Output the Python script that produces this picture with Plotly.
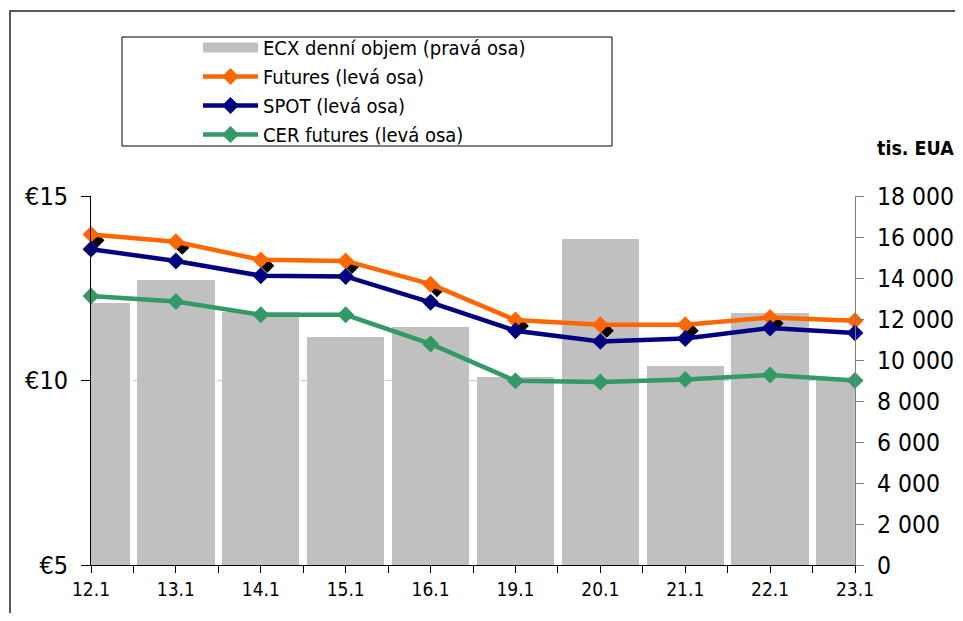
import plotly.graph_objects as go

categories = ["12.1", "13.1", "14.1", "15.1", "16.1", "19.1", "20.1", "21.1", "22.1", "23.1"]
volume = [12760, 13880, 12350, 11100, 11600, 9150, 15920, 9730, 12300, 9100]
futures = [13.96, 13.76, 13.27, 13.24, 12.61, 11.64, 11.51, 11.51, 11.71, 11.62]
spot = [13.56, 13.24, 12.84, 12.82, 12.12, 11.35, 11.06, 11.14, 11.42, 11.29]
cer = [12.29, 12.14, 11.78, 11.78, 10.99, 9.99, 9.96, 10.03, 10.15, 10.00]

names = ["ECX denní objem (pravá osa)", "Futures (levá osa)", "SPOT (levá osa)", "CER futures (levá osa)"]
y_left_ticks = [5, 10, 15]

# page has an 8px body margin; lay out in screen (reference) coordinates
OFF = 8
W, H = 963 - 2 * OFF, 621 - 2 * OFF
PL, PR, PT, PB = 91, 855, 196, 565          # plot area in screen coords
ML, MR, MT, MB = PL - OFF, W - (PR - OFF), PT - OFF, H - (PB - OFF)
PW, PH = PR - PL, PB - PT
FONT = "DejaVu Sans Condensed, DejaVu Sans, sans-serif"

def px_x(p):
    return (p - PL) / PW

def px_y(p):
    return (PB - p) / PH

idx = list(range(len(categories)))

fig = go.Figure()
fig.add_trace(go.Bar(x=idx, y=volume, width=0.91, marker=dict(color="#C0C0C0", line=dict(width=0)),
                     yaxis="y", showlegend=False, name=names[0]))
# legend proxy for bars
fig.add_trace(go.Scatter(x=[None], y=[None], mode="lines", line=dict(color="#C0C0C0", width=14),
                         name=names[0], yaxis="y2", legendrank=1))
# drop shadow of futures markers
fig.add_trace(go.Scatter(x=[i + 0.075 for i in idx], y=[v - 0.16 for v in futures], mode="markers",
                         marker=dict(symbol="diamond", size=11, color="black"),
                         yaxis="y2", showlegend=False, cliponaxis=False, hoverinfo="skip"))
for vals, col, nm, rk in [(futures, "#FF6600", names[1], 2), (spot, "#000080", names[2], 3), (cer, "#339966", names[3], 4)]:
    fig.add_trace(go.Scatter(x=idx, y=vals, mode="lines+markers", name=nm, legendrank=rk,
                             line=dict(color=col, width=4.5),
                             marker=dict(symbol="diamond", size=13, color=col),
                             yaxis="y2", cliponaxis=False))

fig.update_layout(
    width=W, height=H,
    margin=dict(l=ML, r=MR, t=MT, b=MB, pad=0, autoexpand=False),
    paper_bgcolor="white", plot_bgcolor="white",
    font=dict(family=FONT, color="black"),
    separators=". ",
    bargap=0,
    xaxis=dict(range=[0, len(categories) - 1], tickvals=idx, ticktext=categories, automargin=False,
               ticks="outside", ticklen=7, tickcolor="black", showline=True, linecolor="black", linewidth=1,
               showgrid=False, zeroline=False, tickfont=dict(size=19), ticklabelstandoff=0,
               minor=dict(tickvals=[i + 0.5 for i in idx[:-1]], ticks="outside", ticklen=7,
                          tickcolor="black", showgrid=False)),
    yaxis=dict(side="right", range=[0, 18000], dtick=2000, tick0=0, tickformat=",d", separatethousands=True,
               automargin=False,
               ticks="outside", ticklen=8, tickcolor="#808080", showline=True, linecolor="#808080",
               showgrid=False, zeroline=False, tickfont=dict(size=24.5), ticklabelstandoff=8),
    yaxis2=dict(overlaying="y", side="left", range=[5, 15], tickvals=y_left_ticks,
                ticktext=["€" + str(v) for v in y_left_ticks], automargin=False,
                ticks="outside", ticklen=9, tickcolor="black", showline=True, linecolor="black",
                showgrid=True, gridcolor="#C8C8C8", griddash="8px,6px", gridwidth=1,
                zeroline=False, tickfont=dict(size=25), ticklabelstandoff=8),
    legend=dict(x=px_x(198), y=px_y(28), xanchor="left", yanchor="top", bgcolor="rgba(0,0,0,0)",
                borderwidth=0, font=dict(size=20, family=FONT), itemwidth=55, tracegroupgap=0),
    shapes=[
        dict(type="rect", xref="paper", yref="paper", x0=px_x(122), x1=px_x(612), y0=px_y(146), y1=px_y(37),
             line=dict(color="black", width=1)),
        dict(type="rect", xref="paper", yref="paper", x0=px_x(10), x1=px_x(1100), y0=px_y(800), y1=px_y(11),
             line=dict(color="#222222", width=1.5)),
    ],
    annotations=[
        dict(text="<b>tis. EUA</b>", xref="paper", yref="paper", x=px_x(956), y=px_y(148),
             xanchor="right", yanchor="middle", showarrow=False, font=dict(size=19.5, family=FONT)),
    ],
)

fig.write_html("out.html")
